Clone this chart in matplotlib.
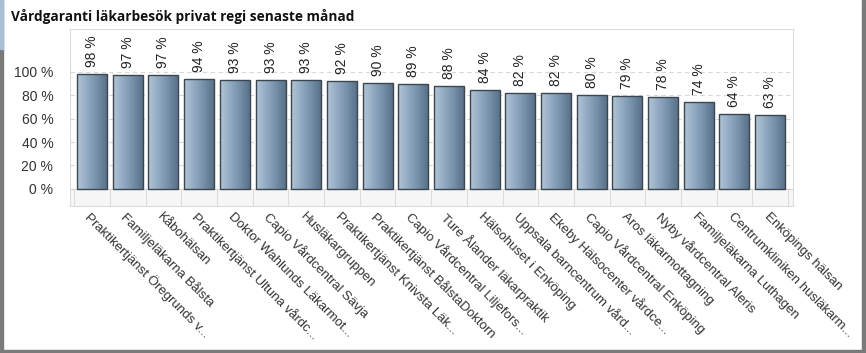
import numpy as np
import matplotlib
matplotlib.use("Agg")
import matplotlib.pyplot as plt
from matplotlib.colors import LinearSegmentedColormap
from matplotlib.patches import Rectangle

# ================= Data =================
TITLE = "Vårdgaranti läkarbesök privat regi senaste månad"

units = [
    "Praktikertjänst Öregrunds v...",
    "Familjeläkarna Bålsta",
    "Kåbohälsan",
    "Praktikertjänst Ultuna vårdc...",
    "Doktor Wahlunds Läkarmot...",
    "Capio Vårdcentral Sävja",
    "Husläkargruppen",
    "Praktikertjänst Knivsta Läk...",
    "Praktikertjänst BålstaDoktorn",
    "Capio Vårdcentral Liljefors...",
    "Ture Ålander läkarpraktik",
    "Hälsohuset i Enköping",
    "Uppsala barncentrum vård...",
    "Ekeby Hälsocenter vårdce...",
    "Capio Vårdcentral Enköping",
    "Aros läkarmottagning",
    "Nyby vårdcentral Aleris",
    "Familjeläkarna Luthagen",
    "Centrumkliniken husläkarm...",
    "Enköpings hälsan",
]
values = [98, 97, 97, 94, 93, 93, 93, 92, 90, 89, 88, 84, 82, 82, 80, 79, 78, 74, 64, 63]
yticks = [0, 20, 40, 60, 80, 100]
# ========================================

plt.rcParams['font.family'] = ['Liberation Sans', 'DejaVu Sans']

fig = plt.figure(figsize=(8.66, 3.53), dpi=100)
ax = fig.add_axes([0.0808, 0.4164, 0.8349, 0.5014])

x = np.arange(len(values))
width = 0.84
bar_cmap = LinearSegmentedColormap.from_list(
    "bar", ["#b3c5d6", "#93abc2", "#7590aa", "#5a7189"])
grad = np.linspace(0, 1, 64).reshape(1, -1)

XLIM = (-0.62, len(values) - 1 + 0.64)
YLIM = (-14.5, 136.2)

# grid + lower band
for yv in yticks[1:]:
    ax.axhline(yv, color="#d8d8d8", lw=0.8, ls=(0, (4, 3)), zorder=0)
ax.axhspan(YLIM[0], 0, color="#f6f6f6", zorder=0)
ax.axhline(0, color="#d0d0d0", lw=0.8, zorder=1)
for b in np.arange(-0.5, len(values), 1.0):
    ax.plot([b, b], [YLIM[0], 0], color="#dddddd", lw=0.8, zorder=1)

# gradient bars
bars = ax.bar(x, values, width=width, facecolor="none", edgecolor="#3c4650",
              linewidth=1.0, zorder=3)
for rect in bars:
    x0, w, h = rect.get_x(), rect.get_width(), rect.get_height()
    im = ax.imshow(grad, cmap=bar_cmap, aspect="auto",
                   extent=(x0, x0 + w, 0, h), zorder=2, interpolation="bicubic")
    im.set_clip_path(rect)

ax.set_xlim(*XLIM)
ax.set_ylim(*YLIM)

# value labels
for xi, v in zip(x, values):
    ax.text(xi, v + 6, f"{v} %", rotation=90, ha="center", va="bottom",
            fontsize=10, color="#222222")

ax.set_yticks(yticks)
ax.set_yticklabels([f"{t} %" for t in yticks], fontsize=10, color="#333333")
ax.tick_params(axis="y", length=0, pad=12)
ax.set_xticks(x)
ax.set_xticklabels(units, rotation=-45, ha="left", va="top",
                   rotation_mode="anchor", fontsize=9.5, color="#333333")
ax.tick_params(axis="x", length=0, pad=3)
for sp in ax.spines.values():
    sp.set_color("#dcdcdc")
    sp.set_linewidth(0.8)

fig.text(0.013, 0.952, TITLE, fontsize=9.8, fontweight="bold",
         family=["Open Sans", "DejaVu Sans"], color="#111111", va="center")

# outer frame
fig.patches.append(Rectangle((0, 0), 0.004, 1, transform=fig.transFigure,
                             color="#7a7a7a", zorder=10))
fig.patches.append(Rectangle((0, 0.86), 0.004, 0.14, transform=fig.transFigure,
                             color="#a9bfd6", zorder=11))
fig.patches.append(Rectangle((0.995, 0), 0.005, 1, transform=fig.transFigure,
                             color="#7a7a7a", zorder=10))
fig.patches.append(Rectangle((0, 0), 1, 0.008, transform=fig.transFigure,
                             color="#7a7a7a", zorder=10))

fig.savefig("out.png", dpi=100)
